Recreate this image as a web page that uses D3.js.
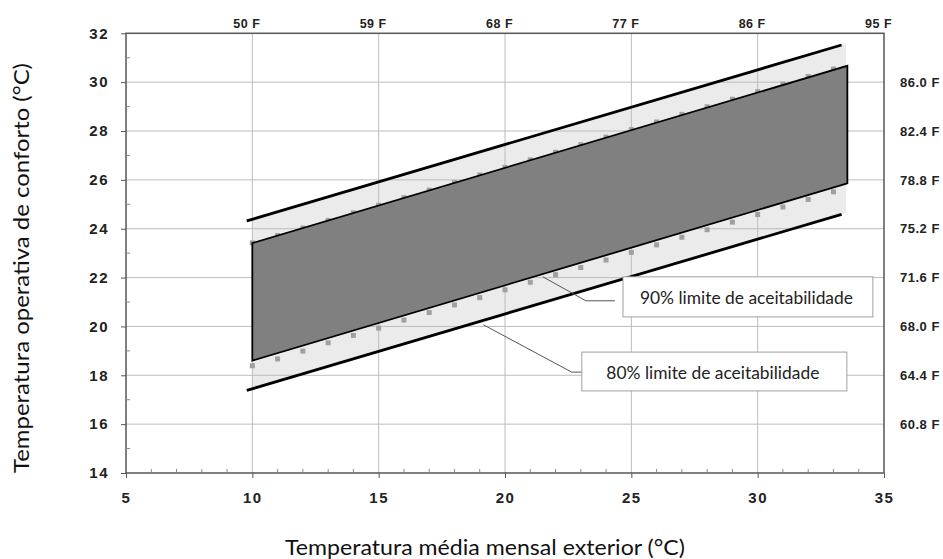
<!DOCTYPE html>
<html><head><meta charset="utf-8">
<script src="https://cdn.jsdelivr.net/npm/d3@7"></script>
<style>body{margin:0;background:#fff} svg{display:block}</style>
</head><body><svg id="c" width="943" height="559"></svg>
<script>
// ---------- data ----------
const xTicks = [5, 10, 15, 20, 25, 30, 35];
const yTicks = [14, 16, 18, 20, 22, 24, 26, 28, 30, 32];
const gridX = [10, 15, 20, 25, 30];
const gridY = [16, 18, 20, 22, 24, 26, 28, 30];
const minorX = [6,7,8,9,11,12,13,14,16,17,18,19,21,22,23,24,26,27,28,29,31,32,33,34];
const minorY = [15,17,19,21,23,25,27,29,31];
const topTickValues = [10, 15, 20, 25, 30, 35];
const topTickLabels = ["50 F", "59 F", "68 F", "77 F", "86 F", "95 F"];
const rightTickValues = [16, 18, 20, 22, 24, 26, 28, 30];
const rightTickLabels = ["60.8 F", "64.4 F", "68.0 F", "71.6 F", "75.2 F", "78.8 F", "82.4 F", "86.0 F"];

// 80% acceptability limit lines (start / end)
const line80X = [9.78, 33.32];
const line80Upper = [24.32, 31.52];
const line80Lower = [17.38, 24.59];
// light 80% band
const band80X = [10, 33.5];
const band80Upper = [24.39, 31.6];
const band80Lower = [17.45, 24.65];
// dark 90% band
const band90X = [10, 33.55];
const band90Upper = [23.41, 30.67];
const band90Lower = [18.6, 25.86];
// square markers of the 90% limits
const markX = [10,11,12,13,14,15,16,17,18,19,20,21,22,23,24,25,26,27,28,29,30,31,32,33];
const mark90Upper = [23.42,23.72,24.03,24.34,24.65,24.96,25.27,25.58,25.89,26.2,26.51,26.82,27.13,27.44,27.75,28.06,28.37,28.68,28.99,29.3,29.61,29.92,30.23,30.54];
const mark90Lower = [18.39,18.67,18.99,19.33,19.63,19.93,20.26,20.57,20.88,21.18,21.5,21.81,22.12,22.41,22.72,23.03,23.34,23.65,23.96,24.27,24.58,24.89,25.2,25.51];

// callouts
const calloutLabels = ["90% limite de aceitabilidade", "80% limite de aceitabilidade"];
const calloutLeaderX = [[21.5, 23.2, 24.35], [19.14, 22.64, 23.04]];
const calloutLeaderY = [[22.03, 21.05, 21.05], [20.07, 18.13, 18.13]];
const calloutBoxX = [[24.67, 34.56], [23.04, 33.53]];
const calloutBoxY = [[22.03, 20.39], [18.95, 17.36]];

const xTitle = "Temperatura média mensal exterior (°C)";
const yTitle = "Temperatura operativa de conforto (°C)";

// ---------- drawing ----------
const svg = d3.select("#c");
const x = d3.scaleLinear().domain([5, 35]).range([126, 884]);
const y = d3.scaleLinear().domain([14, 32]).range([473, 33.3]);

const tickFont = "'Liberation Sans', Arial, sans-serif";
const titleFont = "Lato, 'Open Sans', sans-serif";

// light band
const band80 = band80X.map((v, i) => [v, band80Upper[i]]).concat(band80X.map((v, i) => [v, band80Lower[i]]).reverse());
svg.append("path")
  .attr("d", d3.line().x(d => x(d[0])).y(d => y(d[1]))(band80) + "Z")
  .attr("fill", "#ebebeb");

// grid
svg.append("g").selectAll("line").data(gridX).join("line")
  .attr("x1", d => x(d)).attr("x2", d => x(d)).attr("y1", y(32)).attr("y2", y(14))
  .attr("stroke", "#bdbdbd").attr("stroke-width", 1);
svg.append("g").selectAll("line").data(gridY).join("line")
  .attr("y1", d => y(d)).attr("y2", d => y(d)).attr("x1", x(5)).attr("x2", x(35))
  .attr("stroke", "#bdbdbd").attr("stroke-width", 1);

// markers
const ms = 5;
svg.append("g").selectAll("rect").data(markX.map((v, i) => [v, mark90Upper[i]]).concat(markX.map((v, i) => [v, mark90Lower[i]])))
  .join("rect")
  .attr("x", d => x(d[0]) - ms / 2).attr("y", d => y(d[1]) - ms / 2)
  .attr("width", ms).attr("height", ms).attr("fill", "#a0a0a0");

// dark band
const band90 = band90X.map((v, i) => [v, band90Upper[i]]).concat(band90X.map((v, i) => [v, band90Lower[i]]).reverse());
svg.append("path")
  .attr("d", d3.line().x(d => x(d[0])).y(d => y(d[1]))(band90) + "Z")
  .attr("fill", "#808080").attr("stroke", "#000").attr("stroke-width", 1.8).attr("stroke-linejoin", "miter");

// 80% lines
[line80Upper, line80Lower].forEach(arr => {
  svg.append("path")
    .attr("d", d3.line().x(d => x(d[0])).y(d => y(d[1]))(line80X.map((v, i) => [v, arr[i]])))
    .attr("fill", "none").attr("stroke", "#000").attr("stroke-width", 2.8);
});

// callouts
calloutLabels.forEach((lab, k) => {
  const pts = calloutLeaderX[k].map((v, i) => [v, calloutLeaderY[k][i]]);
  svg.append("path")
    .attr("d", d3.line().x(d => x(d[0])).y(d => y(d[1]))(pts))
    .attr("fill", "none").attr("stroke", "#555").attr("stroke-width", 1);
  const bx0 = x(calloutBoxX[k][0]), bx1 = x(calloutBoxX[k][1]);
  const by0 = y(calloutBoxY[k][0]), by1 = y(calloutBoxY[k][1]);
  svg.append("rect").attr("x", bx0).attr("y", by0).attr("width", bx1 - bx0).attr("height", by1 - by0)
    .attr("fill", "#fff").attr("stroke", "#a0a0a0").attr("stroke-width", 1);
  svg.append("text").attr("x", (bx0 + bx1) / 2 - 1.5).attr("y", (by0 + by1) / 2 + 7)
    .attr("text-anchor", "middle").attr("font-family", titleFont).attr("font-size", 17)
    .attr("fill", "#222").attr("textLength", 213).attr("lengthAdjust", "spacingAndGlyphs")
    .text(lab);
});

// frame
svg.append("rect").attr("x", x(5)).attr("y", y(32)).attr("width", x(35) - x(5)).attr("height", y(14) - y(32))
  .attr("fill", "none").attr("stroke", "#555").attr("stroke-width", 1.5);

// minor ticks (inside)
svg.append("g").selectAll("line").data(minorX).join("line")
  .attr("x1", d => x(d)).attr("x2", d => x(d)).attr("y1", y(14)).attr("y2", y(14) - 4)
  .attr("stroke", "#888");
svg.append("g").selectAll("line").data(minorY).join("line")
  .attr("y1", d => y(d)).attr("y2", d => y(d)).attr("x1", x(5)).attr("x2", x(5) + 4)
  .attr("stroke", "#888");

// bottom axis
const axBottom = svg.append("g").attr("transform", `translate(0,${y(14)})`)
  .call(d3.axisBottom(x).tickValues(xTicks).tickSize(5).tickPadding(14).tickFormat(d3.format("d")));
// left axis
const axLeft = svg.append("g").attr("transform", `translate(${x(5)},0)`)
  .call(d3.axisLeft(y).tickValues(yTicks).tickSize(5).tickPadding(12).tickFormat(d3.format("d")));
[axBottom, axLeft].forEach(g => {
  g.select(".domain").remove();
  g.selectAll(".tick line").attr("stroke", "#555");
  g.selectAll("text").attr("font-family", tickFont).attr("font-size", 15).attr("font-weight", "bold")
    .attr("fill", "#222").attr("letter-spacing", "1.5px");
});
// top axis (Fahrenheit)
const axTop = svg.append("g").attr("transform", `translate(0,${y(32)})`)
  .call(d3.axisTop(x).tickValues(topTickValues).tickSize(0).tickPadding(5)
    .tickFormat((d, i) => topTickLabels[i]));
axTop.select(".domain").remove();
axTop.selectAll("text").attr("font-family", tickFont).attr("font-size", 12.5).attr("font-weight", "bold")
  .attr("fill", "#222").attr("dx", -6).attr("letter-spacing", "0.5px");
// right axis (Fahrenheit)
const axRight = svg.append("g").attr("transform", `translate(${x(35)},0)`)
  .call(d3.axisRight(y).tickValues(rightTickValues).tickSize(0).tickPadding(16)
    .tickFormat((d, i) => rightTickLabels[i]));
axRight.select(".domain").remove();
axRight.selectAll("text").attr("font-family", tickFont).attr("font-size", 13).attr("font-weight", "bold")
  .attr("fill", "#222").attr("letter-spacing", "0.5px");

// titles
svg.append("text").attr("x", 485).attr("y", 555).attr("text-anchor", "middle")
  .attr("font-family", titleFont).attr("font-size", 21).attr("fill", "#111")
  .attr("textLength", 400).attr("lengthAdjust", "spacingAndGlyphs").text(xTitle);
svg.append("text").attr("transform", "translate(29,268) rotate(-90)").attr("text-anchor", "middle")
  .attr("font-family", titleFont).attr("font-size", 21).attr("fill", "#111")
  .attr("textLength", 410).attr("lengthAdjust", "spacingAndGlyphs").text(yTitle);
</script></body></html>
